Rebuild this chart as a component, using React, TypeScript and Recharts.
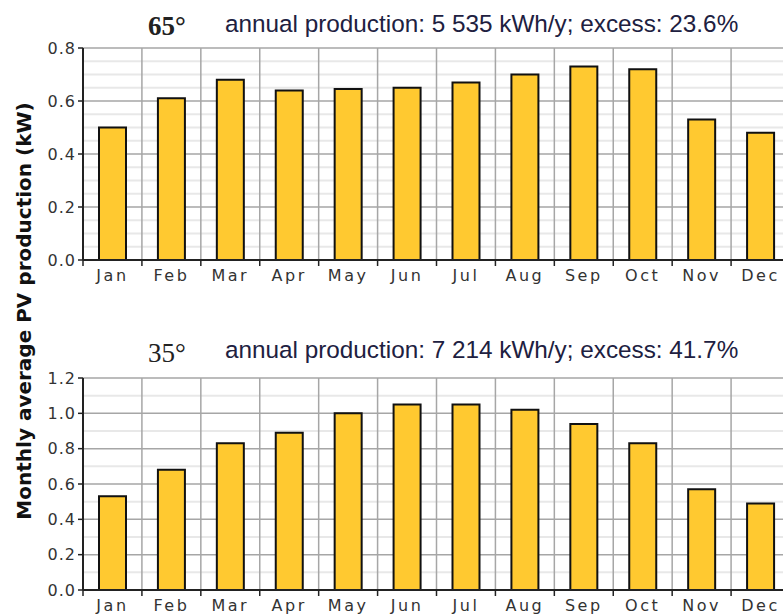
import { BarChart, Bar, XAxis, YAxis, CartesianGrid } from "recharts";

const months = ["Jan", "Feb", "Mar", "Apr", "May", "Jun", "Jul", "Aug", "Sep", "Oct", "Nov", "Dec"];
const tilt65 = [0.5, 0.61, 0.68, 0.64, 0.645, 0.65, 0.67, 0.7, 0.73, 0.72, 0.53, 0.48];
const tilt35 = [0.53, 0.68, 0.83, 0.89, 1.0, 1.05, 1.05, 1.02, 0.94, 0.83, 0.57, 0.49];
const ticks65 = [0, 0.2, 0.4, 0.6, 0.8];
const minor65 = [0.05, 0.1, 0.15, 0.25, 0.3, 0.35, 0.45, 0.5, 0.55, 0.65, 0.7, 0.75];
const ticks35 = [0, 0.2, 0.4, 0.6, 0.8, 1.0, 1.2];
const minor35 = [0.1, 0.3, 0.5, 0.7, 0.9, 1.1];

const CHART_W = 790;
const CHART_H = 290;
const TOP = 48;
const Y_W = 83;
const X_H = 30;
const PLOT_H = CHART_H - TOP - X_H;
const BAND = (CHART_W - Y_W) / months.length;

const TICK_SIZE = 5;
const TICK_MARGIN = 2;

function MonthTick(props: any) {
  const { x, y, payload } = props;
  const bx = x - BAND / 2;
  const ay = y - TICK_SIZE - TICK_MARGIN;
  return (
    <g>
      <line x1={bx} x2={bx} y1={ay} y2={ay + 6} stroke="#222" strokeWidth={1.5} />
      <text
        x={x}
        y={y}
        dy={14}
        textAnchor="middle"
        fill="#333"
        fontSize={16}
        letterSpacing={2.5}
        fontFamily="DejaVu Sans"
      >
        {payload.value}
      </text>
    </g>
  );
}

function Panel({ values, max, ticks, minor }: { values: number[]; max: number; ticks: number[]; minor: number[] }) {
  const data = months.map((m, i) => ({ month: m, kw: values[i] }));
  // light minor grid lines between the major ticks
  const minorPts = minor.map((v) => TOP + (1 - v / max) * PLOT_H);
  return (
    <BarChart width={CHART_W} height={CHART_H} data={data} margin={{ top: TOP, right: 0, left: 0, bottom: 0 }}>
      <CartesianGrid vertical={false} horizontalPoints={minorPts} stroke="#e8e8e8" strokeWidth={2} />
      <CartesianGrid
        stroke="#a6a6a6"
        strokeWidth={1.5}
        verticalCoordinatesGenerator={() => months.map((_, i) => Y_W + i * BAND).slice(1)}
      />
      <XAxis
        dataKey="month"
        height={X_H}
        interval={0}
        tickSize={TICK_SIZE}
        tickMargin={TICK_MARGIN}
        tickLine={false}
        axisLine={{ stroke: "#222", strokeWidth: 2 }}
        tick={<MonthTick />}
      />
      <XAxis
        xAxisId="top"
        orientation="top"
        dataKey="month"
        height={0}
        tick={false}
        tickLine={false}
        axisLine={{ stroke: "#333", strokeWidth: 2 }}
      />
      <YAxis
        width={Y_W}
        domain={[0, max]}
        ticks={ticks}
        interval={0}
        tickSize={TICK_SIZE}
        tickMargin={TICK_MARGIN}
        tickFormatter={(v: number) => v.toFixed(1)}
        tick={{ fill: "#333", fontSize: 16, fontFamily: "DejaVu Sans", letterSpacing: 1 }}
        tickLine={{ stroke: "#222", strokeWidth: 1.5 }}
        axisLine={{ stroke: "#222", strokeWidth: 2 }}
      />
      <Bar dataKey="kw" fill="#FFC930" stroke="#111" strokeWidth={2} barSize={27} isAnimationActive={false} />
    </BarChart>
  );
}

export default function App() {
  return (
    <div style={{ position: "absolute", left: 0, top: 0, width: 783, height: 614, overflow: "hidden", background: "#fff" }}>
      <div style={{ position: "absolute", left: 0, top: 0 }}>
        <Panel values={tilt65} max={0.8} ticks={ticks65} minor={minor65} />
      </div>
      <div style={{ position: "absolute", left: 0, top: 330 }}>
        <Panel values={tilt35} max={1.2} ticks={ticks35} minor={minor35} />
      </div>
      <svg width={783} height={614} style={{ position: "absolute", left: 0, top: 0, pointerEvents: "none" }}>
        <text x={148} y={35} fontFamily="Liberation Serif" fontWeight="bold" fontSize={27} fill="#222">
          65°
        </text>
        <text x={225} y={32} fontFamily="Liberation Sans" fontSize={24.3} fill="#202040">
          annual production: 5 535 kWh/y; excess: 23.6%
        </text>
        <text x={148} y={362} fontFamily="Liberation Serif" fontSize={27} fill="#222">
          35°
        </text>
        <text x={225} y={358} fontFamily="Liberation Sans" fontSize={24.3} fill="#202040">
          annual production: 7 214 kWh/y; excess: 41.7%
        </text>
        <text
          transform="translate(31 311) rotate(-90)"
          textAnchor="middle"
          fontFamily="DejaVu Sans"
          fontWeight="bold"
          fontSize={20}
          fill="#111"
        >
          Monthly average PV production (kW)
        </text>
      </svg>
    </div>
  );
}
